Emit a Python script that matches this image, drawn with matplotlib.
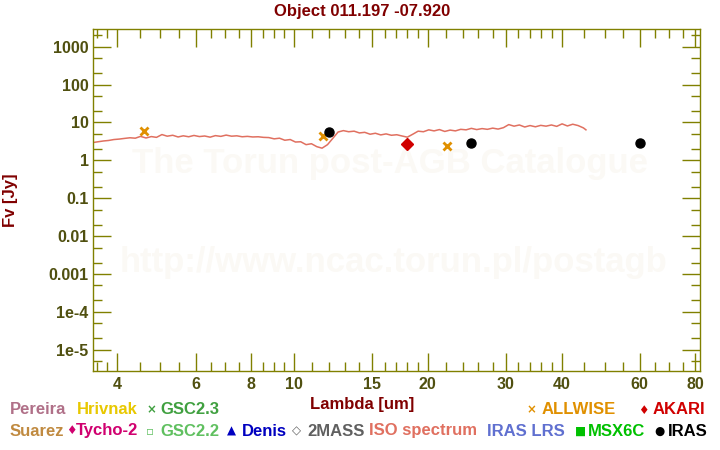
import matplotlib
matplotlib.use('Agg')
import matplotlib.pyplot as plt
from matplotlib.ticker import FixedLocator, FixedFormatter, NullFormatter, LogLocator

plt.rcParams['font.family'] = ['Liberation Sans', 'DejaVu Sans']
plt.rcParams['font.weight'] = 'bold'

# ISO spectrum
iso_wave = [3.52, 3.62, 3.72, 3.82, 3.93, 4.04, 4.15, 4.27, 4.39, 4.51,
            4.64, 4.77, 4.90, 5.04, 5.18, 5.33, 5.48, 5.63, 5.79, 5.95,
            6.12, 6.29, 6.47, 6.65, 6.84, 7.03, 7.23, 7.43, 7.64, 7.85,
            8.07, 8.30, 8.53, 8.77, 9.02, 9.27, 9.53, 9.80, 10.07, 10.35,
            10.64, 10.94, 11.25, 11.56, 11.89, 12.22, 12.56, 12.91, 13.27, 13.65,
            14.03, 14.42, 14.83, 15.24, 15.67, 16.11, 16.56, 17.03, 17.50, 17.99,
            18.50, 19.02, 19.55, 20.10, 20.66, 21.24, 21.84, 22.45, 23.08, 23.72,
            24.39, 25.07, 25.77, 26.50, 27.24, 28.00, 28.79, 29.60, 30.43, 31.28,
            32.15, 33.06, 33.98, 34.94, 35.92, 36.92, 37.96, 39.02, 40.12, 41.24,
            42.40, 43.59, 44.81, 45.40]
iso_flux = [2.95, 3.10, 3.25, 3.35, 3.55, 3.65, 3.80, 3.95, 3.85, 4.30,
            3.90, 4.25, 4.05, 4.80, 4.35, 4.60, 4.15, 4.45, 4.20, 4.55,
            4.25, 4.40, 4.10, 4.50, 4.30, 4.65, 4.35, 4.45, 4.20, 4.30,
            4.15, 4.20, 4.05, 4.00, 3.70, 3.85, 3.40, 3.55, 3.05, 3.10,
            2.60, 2.75, 2.30, 2.10, 2.60, 3.80, 5.60, 6.10, 5.70, 5.90,
            5.30, 5.50, 4.90, 5.20, 4.70, 5.00, 4.60, 4.75, 4.40, 4.10,
            4.90, 5.90, 5.70, 6.40, 6.00, 6.50, 5.80, 6.30, 6.00, 6.60,
            6.40, 7.00, 6.50, 6.90, 6.60, 7.10, 6.70, 7.30, 8.80, 8.00,
            8.60, 7.60, 8.30, 7.70, 8.40, 8.00, 8.60, 7.90, 9.20, 8.10,
            9.00, 8.30, 7.20, 6.40]

# photometry
allwise_wave = [4.6, 11.6, 22.1]
allwise_flux = [5.9, 4.3, 2.36]
iras_wave = [12.0, 25.0, 60.0]
iras_flux = [5.6, 2.83, 2.83]
akari_wave = [18.0]
akari_flux = [2.66]

x_major = [4, 6, 8, 10, 15, 20, 30, 40, 60, 80]
x_minor = [3.6, 3.8, 4.5, 5, 5.5, 6.5, 7, 7.5, 8.5, 9, 9.5, 11, 12, 13, 14,
           16, 17, 18, 19, 22, 24, 26, 28, 32, 34, 36, 38, 45, 50, 55, 65, 70, 75]
y_major = [1e-5, 1e-4, 1e-3, 1e-2, 1e-1, 1, 10, 100, 1000]
y_labels = ['1e-5', '1e-4', '0.001', '0.01', '0.1', '1', '10', '100', '1000']

W, H = 720, 450
def fx(x):
    return x / W
def fy(y):
    return 1 - y / H

fig = plt.figure(figsize=(7.2, 4.5), dpi=100)
ax = fig.add_axes([fx(92.7), 1 - 371 / H, 606.8 / W, 341.7 / H])

olive = '#808000'
ax.set_xscale('log')
ax.set_yscale('log')
ax.set_xlim(3.52, 81.8)
ax.set_ylim(10 ** -5.56, 10 ** 3.46)

# faint watermark
wm = '#fbf9f5'
ax.text(0.49, 0.607, 'The Torun post-AGB Catalogue', transform=ax.transAxes,
        ha='center', va='center', fontsize=25, color=wm, zorder=0)
ax.text(0.495, 0.318, 'http://www.ncac.torun.pl/postagb', transform=ax.transAxes,
        ha='center', va='center', fontsize=25, color=wm, zorder=0)

ax.plot(iso_wave, iso_flux, color='#e07060', lw=1.1, zorder=2)
ax.plot(allwise_wave, allwise_flux, ls='none', marker='x', color='#e09000',
        ms=6, mew=2, zorder=3)
ax.plot(akari_wave, akari_flux, ls='none', marker='D', color='#d00000',
        ms=6, zorder=3)
ax.plot(iras_wave, iras_flux, ls='none', marker='o', color='black',
        ms=6.5, zorder=3)

ax.xaxis.set_major_locator(FixedLocator(x_major))
ax.xaxis.set_major_formatter(FixedFormatter([str(v) for v in x_major]))
ax.xaxis.set_minor_locator(FixedLocator(x_minor))
ax.xaxis.set_minor_formatter(NullFormatter())
ax.yaxis.set_major_locator(FixedLocator(y_major))
ax.yaxis.set_major_formatter(FixedFormatter(y_labels))
ax.yaxis.set_minor_locator(LogLocator(base=10, subs=(2, 5), numticks=20))
ax.yaxis.set_minor_formatter(NullFormatter())

ax.tick_params(which='both', direction='in', top=True, right=True,
               color=olive, width=1, labelcolor='#505010', labelsize=11.5)
ax.tick_params(which='major', length=13)
ax.tick_params(which='minor', length=6.5)
ax.tick_params(axis='x', pad=4)
ax.tick_params(axis='y', pad=3)
for s in ax.spines.values():
    s.set_color(olive)
    s.set_linewidth(1)

dark_red = '#800000'
fig.text(fx(362), fy(11.5), 'Object 011.197 -07.920', ha='center', va='center',
         fontsize=12, color=dark_red)
fig.text(fx(10), fy(200), 'Fv [Jy]', ha='center', va='center', rotation=90,
         fontsize=12, color=dark_red)
fig.text(fx(362), fy(404), 'Lambda [um]', ha='center', va='center',
         fontsize=12, color=dark_red)

# legend built from coloured text
legend_items = [
    # (marker, marker_x, label, label_x, row_y, colour)
    ('', 0, 'Pereira', 10, 410, '#b07088'),
    ('', 0, 'Hrivnak', 77, 410, '#e8c800'),
    ('\u00d7', 147, 'GSC2.3', 160, 410, '#40a040'),
    ('\u00d7', 527, 'ALLWISE', 542, 410, '#e09000'),
    ('\u2666', 638, 'AKARI', 653, 410, '#d00000'),
    ('', 0, 'Suarez', 10, 431, '#c08a40'),
    ('\u2666', 66, 'Tycho-2', 76, 431, '#d0006f'),
    ('\u25ab', 146, 'GSC2.2', 160, 431, '#60c060'),
    ('\u25b2', 227, 'Denis', 242, 431, '#0000c0'),
    ('\u25c7', 292, '2MASS', 307, 431, '#606060'),
    ('', 0, 'ISO spectrum', 369, 431, '#e07060'),
    ('', 0, 'IRAS LRS', 487, 431, '#6070d0'),
    ('\u25a0', 575, 'MSX6C', 588, 431, '#00c000'),
    ('\u25cf', 654, 'IRAS', 668, 431, 'black'),
]
for mk, mx, label, lx, ry, col in legend_items:
    if mk:
        fig.text(fx(mx), fy(ry), mk, ha='left', va='center', fontsize=8.5,
                 color=col, family=['DejaVu Sans'])
    fig.text(fx(lx), fy(ry), label, ha='left', va='center', fontsize=12,
             color=col)

fig.savefig('out.png', dpi=100)
